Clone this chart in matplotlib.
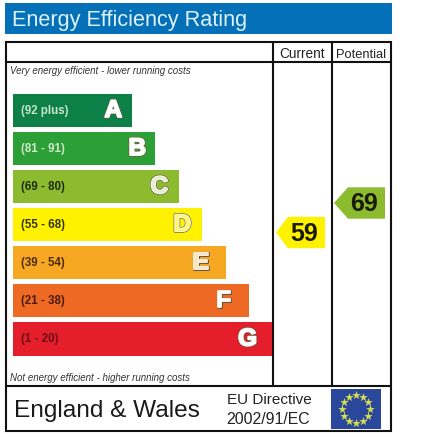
import numpy as np
import matplotlib
matplotlib.use("Agg")
import matplotlib.pyplot as plt
import matplotlib.patheffects as pe
from matplotlib.patches import Rectangle, Polygon

plt.rcParams['font.family'] = ['Liberation Sans', 'DejaVu Sans']

# ---- data ----
title = "Energy Efficiency Rating"
band_letters = ["A", "B", "C", "D", "E", "F", "G"]
band_ranges = ["(92 plus)", "(81 - 91)", "(69 - 80)", "(55 - 68)", "(39 - 54)", "(21 - 38)", "(1 - 20)"]
band_lengths = [119, 142, 166, 189, 213, 236, 259]
band_colors = ["#0c8046", "#2c9f37", "#8dbb2f", "#fff200", "#f7a823", "#ee6a24", "#e41e2b"]
range_colors = ["#c9e6d0", "#cfeacb", "#1d2a08", "#333300", "#4a2a08", "#4a1a08", "#6a0f18"]
letter_fills = ["white", "white", "#e4edd0", "#fff76a", "#fbe6c0", "white", "white"]
current_score = 59
potential_score = 69
current_color = "#fff200"
potential_color = "#8dbb2f"
column_labels = ["Current", "Potential"]

W, H = 429, 437
fig = plt.figure(figsize=(W / 100, H / 100), dpi=100, facecolor="white")

def px_axes(x0, y0, x1, y1, **kw):
    return fig.add_axes([x0 / W, 1 - y1 / H, (x1 - x0) / W, (y1 - y0) / H], **kw)

# page axes in pixel units, used for the frame only
ax = px_axes(0, 0, W, H)
ax.set_xlim(0, W); ax.set_ylim(H, 0); ax.axis("off")

ax.add_patch(Rectangle((5, 3), 387, 31, fc="#0470b8", ec="none"))
ax.text(12.5, 20.5, title, color="#dff1fb", fontsize=15.6, va="center", ha="left")

lk = dict(color="#111111", lw=1.5, solid_capstyle="butt")
ax.add_patch(Rectangle((6, 42), 385, 389, fc="white", ec="#111111", lw=1.5))
ax.plot([6, 391], [62, 62], **lk)
ax.plot([6, 391], [386, 386], **lk)
ax.plot([272.5, 272.5], [42, 386], **lk)
ax.plot([332, 332], [42, 386], **lk)

ax.text(302, 57.5, column_labels[0], fontsize=9.8, color="#222222", ha="center", va="baseline")
ax.text(361, 57.5, column_labels[1], fontsize=9.3, color="#222222", ha="center", va="baseline")
ax.text(10, 70.5, "Very energy efficient - lower running costs", fontsize=7.0, style="italic",
        color="#333333", ha="left", va="center")
ax.text(10, 378, "Not energy efficient - higher running costs", fontsize=7.0, style="italic",
        color="#333333", ha="left", va="center")
ax.text(14.5, 411, "England & Wales", fontsize=17.6, color="#1a1a1a", ha="left", va="center")
ax.text(227, 400.5, "EU Directive", fontsize=11, color="#222222", ha="left", va="center")
ax.text(226, 419.5, "2002/91/EC", fontsize=11.4, color="#222222", ha="left", va="center")

# bands
bx = px_axes(13, 91.46, 272, 358.04)
bx.set_xlim(0, 259); bx.set_ylim(len(band_letters) - 0.5, -0.5); bx.axis("off")
ypos = np.arange(len(band_letters))
bx.barh(ypos, band_lengths, height=0.867, color=band_colors, linewidth=0)
letter_insets = [10, 9, 11, 11, 17, 18, 15]
for y, rng, c, letter, L, fill, inset in zip(ypos, band_ranges, range_colors, band_letters,
                                             band_lengths, letter_fills, letter_insets):
    bx.text(8, y, rng, fontsize=8.3, fontweight="bold", color=c, ha="left", va="center")
    t = bx.text(L - inset, y, letter, fontsize=17.5, fontweight="bold", color=fill, ha="right", va="center")
    t.set_path_effects([pe.Stroke(linewidth=2.2, foreground="#6b5a3a"),
                        pe.Stroke(linewidth=1.3, foreground="white"),
                        pe.Normal()])

# score scale: arrows sit on a score axis spanning the rating columns
sx = px_axes(272, 62, 391, 386)
sx.set_xlim(272, 391); sx.set_ylim(6.97, 116.8); sx.axis("off")
per_px = (116.8 - 6.97) / 324
def arrow(score, tip, notch, right, color, shift):
    h = 15.7 * per_px
    sx.add_patch(Polygon([(tip, score), (notch, score + h), (right, score + h),
                          (right, score - h), (notch, score - h)], fc=color, ec="none"))
    sx.text((notch + right) / 2 + shift, score - 0.5, str(score), fontsize=18, fontweight="bold",
            color="#1a1a00", ha="center", va="center")
arrow(current_score, 276, 288, 325, current_color, -2)
arrow(potential_score, 334, 348, 385, potential_color, -2.5)

# EU flag
fx = px_axes(331, 389, 381, 429)
fx.set_xlim(-1.25, 1.25); fx.set_ylim(-1, 1); fx.axis("off")
fx.add_patch(Rectangle((-1.25, -1), 2.5, 2, fc="#2a479c", ec="none"))
angles = np.deg2rad(np.arange(0, 360, 30))
fx.scatter(0.7 * np.cos(angles), 0.68 * np.sin(angles), marker="*", s=42, color="#d4e04e", linewidth=0)

fig.savefig("out.png", dpi=100, facecolor="white")
